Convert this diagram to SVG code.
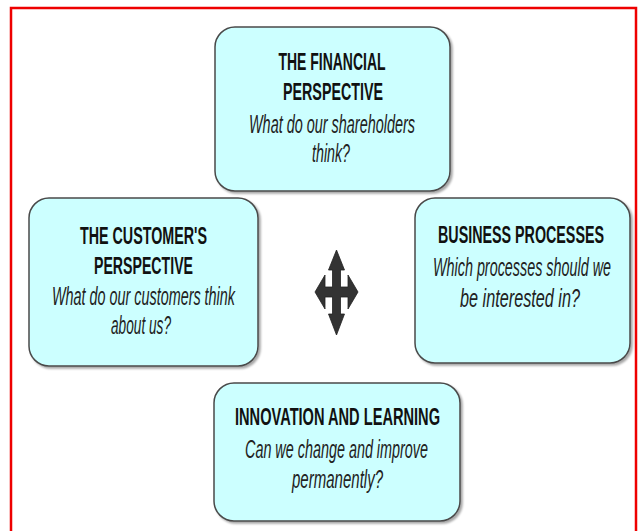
<svg xmlns="http://www.w3.org/2000/svg" width="638" height="531" viewBox="0 0 638 531">
<style>
.box{fill:#ccffff;stroke:#4a4a4a;stroke-width:1.5;filter:url(#sh)}
.h{font-family:"Liberation Sans",Arial,sans-serif;font-size:24px;font-weight:bold;fill:#111;text-anchor:middle}
.q{font-family:"Liberation Sans",Arial,sans-serif;font-size:25px;font-style:italic;fill:#222;text-anchor:middle}
</style>
<defs>
<filter id="sh" x="-10%" y="-10%" width="125%" height="125%">
<feDropShadow dx="2" dy="2" stdDeviation="1.2" flood-color="#000" flood-opacity="0.35"/>
</filter>
</defs>
<rect x="0" y="0" width="638" height="531" fill="#fff"/>
<rect x="11" y="8" width="625" height="560" fill="none" stroke="#ee0000" stroke-width="2.5"/>

<g id="financial">
<rect class="box" x="215" y="27" width="235" height="164" rx="20" ry="20"/>
<text class="h" x="332" y="70" textLength="107" lengthAdjust="spacingAndGlyphs">THE FINANCIAL</text>
<text class="h" x="333" y="100" textLength="100" lengthAdjust="spacingAndGlyphs">PERSPECTIVE</text>
<text class="q" x="332" y="133" textLength="166" lengthAdjust="spacingAndGlyphs">What do our shareholders</text>
<text class="q" x="331" y="162" textLength="38" lengthAdjust="spacingAndGlyphs">think?</text>
</g>

<g id="customer">
<rect class="box" x="29" y="198" width="229" height="168" rx="20" ry="20"/>
<text class="h" x="143.5" y="244" textLength="127" lengthAdjust="spacingAndGlyphs">THE CUSTOMER'S</text>
<text class="h" x="143.5" y="274" textLength="99" lengthAdjust="spacingAndGlyphs">PERSPECTIVE</text>
<text class="q" x="143.5" y="305" textLength="183" lengthAdjust="spacingAndGlyphs">What do our customers think</text>
<text class="q" x="141" y="334" textLength="60" lengthAdjust="spacingAndGlyphs">about us?</text>
</g>

<g id="business">
<rect class="box" x="415" y="198" width="215" height="165" rx="20" ry="20"/>
<text class="h" x="521" y="243" textLength="166" lengthAdjust="spacingAndGlyphs">BUSINESS PROCESSES</text>
<text class="q" x="522" y="276" textLength="178" lengthAdjust="spacingAndGlyphs">Which processes should we</text>
<text class="q" x="520" y="307" textLength="120" lengthAdjust="spacingAndGlyphs">be interested in?</text>
</g>

<g id="innovation">
<rect class="box" x="214" y="383" width="246" height="138" rx="20" ry="20"/>
<text class="h" x="337.5" y="425" textLength="205" lengthAdjust="spacingAndGlyphs">INNOVATION AND LEARNING</text>
<text class="q" x="336.5" y="458" textLength="183" lengthAdjust="spacingAndGlyphs">Can we change and improve</text>
<text class="q" x="337.5" y="488" textLength="91" lengthAdjust="spacingAndGlyphs">permanently?</text>
</g>

<g id="connectors">
<polygon fill="#333" stroke="#222" stroke-width="0.8" stroke-linejoin="round" points="336.5,250 344.5,270 340.5,270 340.5,287 348,287 348,275 358,292 348,309 348,297 340.5,297 340.5,314 344.5,314 336.5,335 328.5,314 332.5,314 332.5,297 325,297 325,309 315,292 325,275 325,287 332.5,287 332.5,270 328.5,270"/>
</g>
</svg>
